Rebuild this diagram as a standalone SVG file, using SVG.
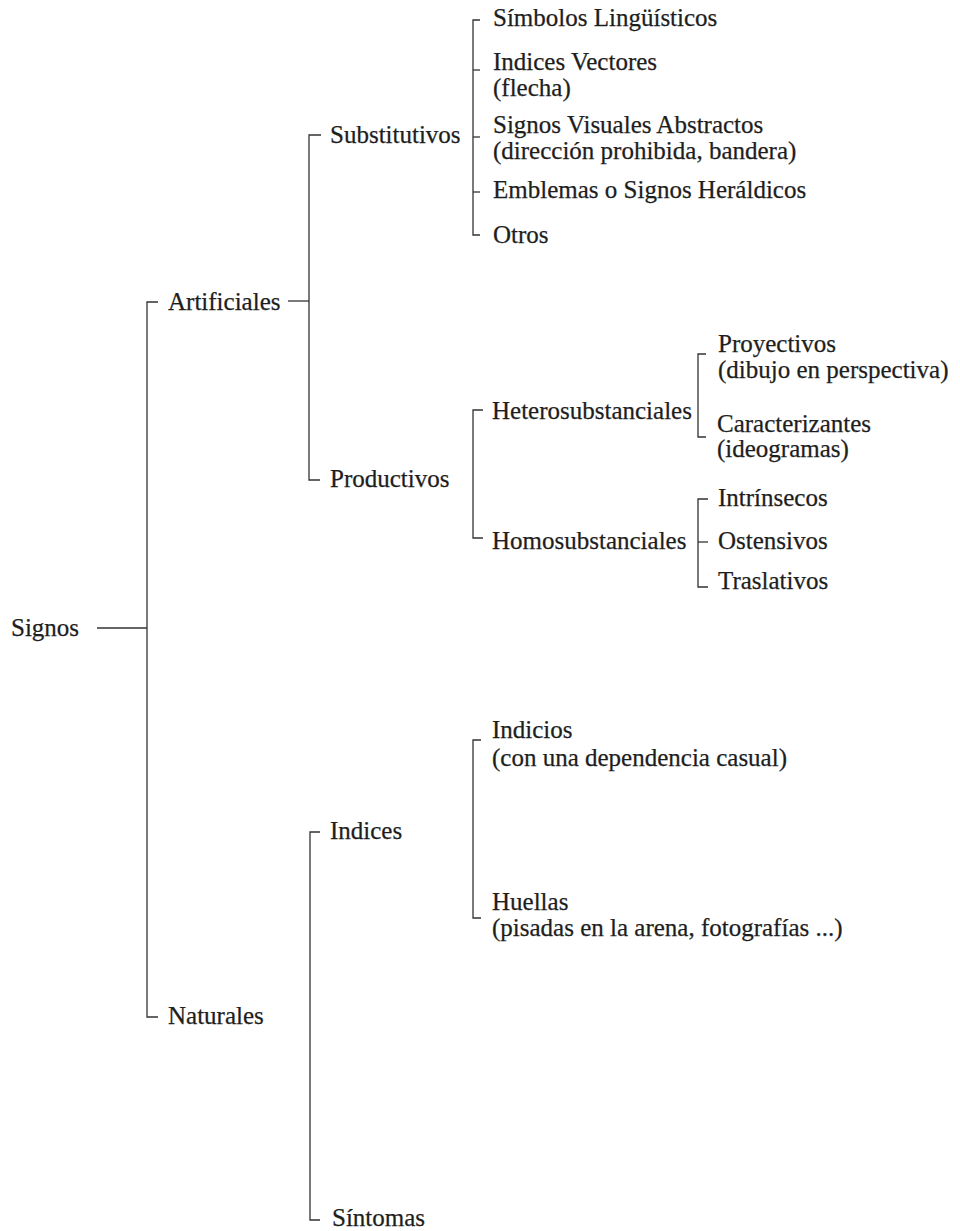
<svg xmlns="http://www.w3.org/2000/svg" width="960" height="1231" viewBox="0 0 960 1231">
  <style>
    .t { font-family: "Liberation Serif", "Times New Roman", serif; font-size: 25px; fill: #1e1e1e; stroke: #1e1e1e; stroke-width: 0.25; }
    .c { fill: none; stroke: #333; stroke-width: 1.3; }
  </style>
  <rect x="0" y="0" width="960" height="1231" fill="#fff"/>

  <!-- bracket connectors -->
  <g id="connectors" class="c">
    <!-- root -->
    <path d="M97,628 H147"/>
    <path d="M158,302 H147 V1017 H158"/>
    <!-- Artificiales -->
    <path d="M288,301 H309"/>
    <path d="M321,135 H309 V480 H320"/>
    <!-- Substitutivos -->
    <path d="M480,20 H473 V235 H480"/>
    <path d="M473,70 H480"/>
    <path d="M473,137 H480"/>
    <path d="M473,192 H480"/>
    <!-- Productivos -->
    <path d="M483,410 H473 V538 H483"/>
    <!-- Heterosubstanciales -->
    <path d="M706,354 H698 V437 H706"/>
    <!-- Homosubstanciales -->
    <path d="M708,499 H698 V587 H708"/>
    <path d="M698,542 H708"/>
    <!-- Naturales -->
    <path d="M320,832 H310 V1220 H320"/>
    <!-- Indices -->
    <path d="M481,740 H473 V918 H481"/>
  </g>

  <g id="signos"><text class="t" x="11" y="636">Signos</text></g>

  <g id="artificiales"><text class="t" x="168" y="310">Artificiales</text></g>
  <g id="substitutivos"><text class="t" x="330" y="143">Substitutivos</text></g>
  <g id="simbolos"><text class="t" x="493" y="26">Símbolos Lingüísticos</text></g>
  <g id="indices-vectores">
    <text class="t" x="493" y="70">Indices Vectores</text>
    <text class="t" x="493" y="96">(flecha)</text>
  </g>
  <g id="signos-visuales">
    <text class="t" x="493" y="133">Signos Visuales Abstractos</text>
    <text class="t" x="493" y="159">(dirección prohibida, bandera)</text>
  </g>
  <g id="emblemas"><text class="t" x="493" y="198">Emblemas o Signos Heráldicos</text></g>
  <g id="otros"><text class="t" x="493" y="243">Otros</text></g>

  <g id="productivos"><text class="t" x="330" y="487">Productivos</text></g>
  <g id="heterosubstanciales"><text class="t" x="492" y="419">Heterosubstanciales</text></g>
  <g id="proyectivos">
    <text class="t" x="718" y="352">Proyectivos</text>
    <text class="t" x="718" y="378">(dibujo en perspectiva)</text>
  </g>
  <g id="caracterizantes">
    <text class="t" x="717" y="432">Caracterizantes</text>
    <text class="t" x="717" y="457">(ideogramas)</text>
  </g>
  <g id="homosubstanciales"><text class="t" x="492" y="549">Homosubstanciales</text></g>
  <g id="intrinsecos"><text class="t" x="718" y="506">Intrínsecos</text></g>
  <g id="ostensivos"><text class="t" x="718" y="549">Ostensivos</text></g>
  <g id="traslativos"><text class="t" x="718" y="589">Traslativos</text></g>

  <g id="naturales"><text class="t" x="168" y="1024">Naturales</text></g>
  <g id="indices"><text class="t" x="330" y="839">Indices</text></g>
  <g id="indicios">
    <text class="t" x="492" y="738">Indicios</text>
    <text class="t" x="492" y="766">(con una dependencia casual)</text>
  </g>
  <g id="huellas">
    <text class="t" x="492" y="910">Huellas</text>
    <text class="t" x="492" y="936">(pisadas en la arena, fotografías ...)</text>
  </g>
  <g id="sintomas"><text class="t" x="332" y="1226">Síntomas</text></g>
</svg>
